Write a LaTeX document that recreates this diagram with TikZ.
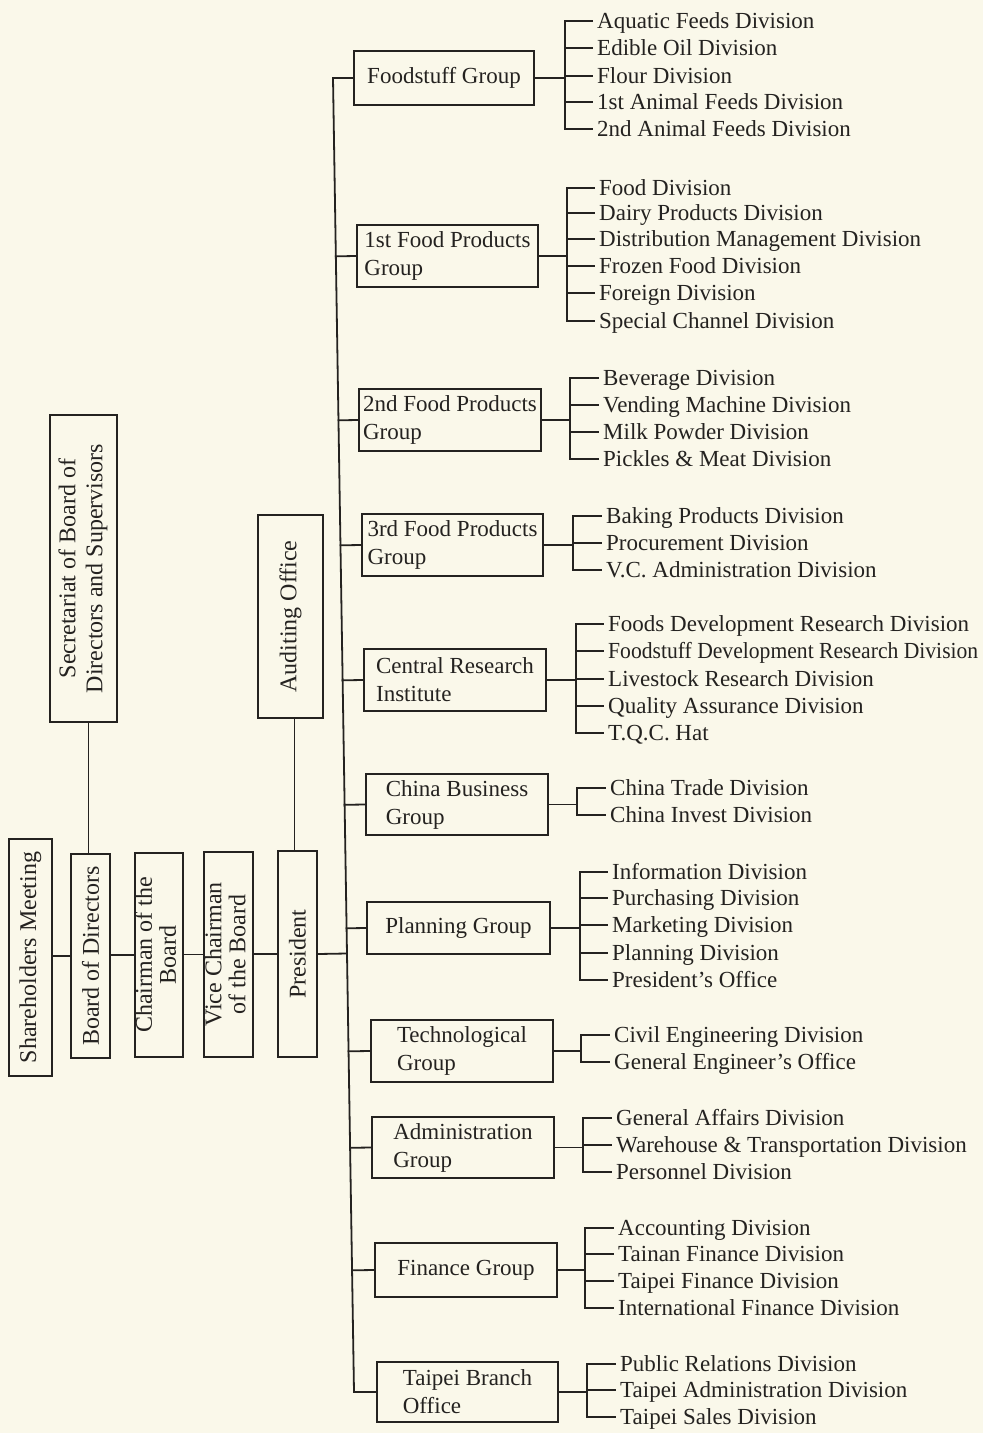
\documentclass[tikz,border=0pt]{standalone}
\usepackage{fontspec}
\setmainfont{Liberation Serif}
\usetikzlibrary{calc}
\definecolor{paper}{RGB}{250,248,234}
\definecolor{ink}{RGB}{36,34,32}
\tikzset{
  conn/.style={draw=ink, line width=1.8pt, line cap=rect},
  gbox/.style={draw=ink, line width=1.8pt, inner sep=0pt, text=ink, align=left,
    font=\fontsize{23}{28}\selectfont},
  vbox/.style={draw=ink, line width=1.8pt, inner sep=0pt, text=ink,
    font=\fontsize{24}{28}\selectfont},
  divitem/.style={anchor=west, inner sep=0pt, text=ink, text height=18pt, text depth=4pt,
    font=\fontsize{23}{28}\selectfont},
}
% #1 group name, #2 bracket x, #3 text x, #4 list y/label
\newcommand\divlist[4]{%
  \coordinate (#1b) at (#2,0);
  \foreach \yy/\lbl [count=\i, remember=\i as \prev (initially 1)] in {#4}{
    \node[divitem] (#1d\i) at (#3,\yy) {\lbl};
    \draw[conn] ([xshift=-5pt]#1d\i.west) -- (#1d\i.west -| #1b);
    \ifnum\i>1
      \draw[conn] (#1d\prev.west -| #1b) -- (#1d\i.west -| #1b);
    \fi
  }
  \draw[conn] (#1.east) -- (#1.east -| #1b);
}
\begin{document}
\begin{tikzpicture}[x=1pt,y=-1pt]
\fill[paper] (0,0) rectangle (983,1433);
\useasboundingbox (0,0) rectangle (983,1433);

% left column
\node[vbox, minimum width=43pt, minimum height=237pt] (SM) at (30.5,957.5)
  {\rotatebox{90}{Shareholders Meeting}};
\node[vbox, minimum width=39pt, minimum height=204pt] (BD) at (90.5,956)
  {\rotatebox{90}{Board of Directors}};
\node[vbox, minimum width=48pt, minimum height=204pt] (CH) at (159,955)
  {\rotatebox{90}{\fontsize{24}{24}\selectfont\begin{tabular}{@{}c@{}}Chairman of the\\Board\end{tabular}}};
\node[vbox, minimum width=49pt, minimum height=205pt] (VC) at (228.5,954.5)
  {\rotatebox{90}{\fontsize{24}{24}\selectfont\begin{tabular}{@{}c@{}}Vice Chairman\\of the Board\end{tabular}}};
\node[vbox, minimum width=39pt, minimum height=206pt] (PR) at (297.5,954)
  {\rotatebox{90}{President}};
\node[vbox, minimum width=67pt, minimum height=307pt] (SE) at (83.5,568.5)
  {\rotatebox{90}{\fontsize{24}{27}\selectfont\begin{tabular}{@{}c@{}}Secretariat of Board of\\Directors and Supervisors\end{tabular}}};
\node[vbox, minimum width=65pt, minimum height=203pt] (AU) at (290.5,616.5)
  {\rotatebox{90}{Auditing Office}};

\draw[conn] (BD.west) -- (BD.west -| SM.east);
\draw[conn] (CH.west) -- (CH.west -| BD.east);
\draw[conn] (VC.west) -- (VC.west -| CH.east);
\draw[conn] (PR.west) -- (PR.west -| VC.east);
\draw[conn] ([xshift=-2pt]BD.north) -- ([xshift=-2pt]BD.north |- SE.south);
\draw[conn] ([xshift=-3pt]PR.north) -- ([xshift=-3pt]PR.north |- AU.south);

% groups
\node[gbox, minimum width=180pt, minimum height=54pt] (G1) at (444,78) {Foodstuff Group};
\node[gbox, minimum width=181pt, minimum height=62pt] (G2) at (447.5,256) {1st Food Products\\Group};
\node[gbox, minimum width=182pt, minimum height=62pt] (G3) at (450,420) {2nd Food Products\\Group};
\node[gbox, minimum width=181pt, minimum height=62pt] (G4) at (452.5,545) {3rd Food Products\\Group};
\node[gbox, minimum width=182pt, minimum height=62pt] (G5) at (455,680) {Central Research\\Institute};
\node[gbox, minimum width=182pt, minimum height=61pt] (G6) at (457,804.5) {China Business\\Group};
\node[gbox, minimum width=183pt, minimum height=52pt] (G7) at (458.5,928) {Planning Group};
\node[gbox, minimum width=182pt, minimum height=62pt] (G8) at (462,1051) {Technological\\Group};
\node[gbox, minimum width=182pt, minimum height=61pt] (G9) at (463,1147.5) {Administration\\Group};
\node[gbox, minimum width=182pt, minimum height=54pt] (G10) at (466,1270) {Finance Group};
\node[gbox, minimum width=181pt, minimum height=60pt] (G11) at (467.5,1392) {Taipei Branch\\Office};

% trunk
\coordinate (T1) at (333,78);
\coordinate (T11) at (354,1392);
\draw[conn, line cap=butt, line join=miter] (G1.west) -- (T1) -- (T11) -- (G11.west);
\draw[conn, line width=2.6pt] (G1.west) -- (T1);
\foreach \g in {G2,G3,G4,G5,G6,G7,G8,G9,G10}{
  \draw[conn] (\g.west) -- ($(T1)!(\g.west)!(T11)$);
}
\coordinate (TP) at ($(T1)!(PR.east)!(T11)$);
\draw[conn] (PR.east) -- (TP);

% divisions
\divlist{G1}{565}{597}{21/Aquatic Feeds Division, 48/Edible Oil Division, 76/Flour Division,
  102/1st Animal Feeds Division, 129/2nd Animal Feeds Division}
\divlist{G2}{567}{599}{188/Food Division, 213/Dairy Products Division,
  239/Distribution Management Division, 266/Frozen Food Division, 293/Foreign Division,
  321/Special Channel Division}
\divlist{G3}{570}{603}{378/Beverage Division, 405/Vending Machine Division,
  432/Milk Powder Division, 459/Pickles \& Meat Division}
\divlist{G4}{573}{606}{516/Baking Products Division, 543/Procurement Division,
  570/V.C. Administration Division}
\divlist{G5}{576}{608}{624/Foods Development Research Division,
  651/\scalebox{0.94}[1]{Foodstuff Development Research Division}, 679/Livestock Research Division,
  706/Quality Assurance Division, 733/T.Q.C. Hat}
\divlist{G6}{577}{610}{788/China Trade Division, 815/China Invest Division}
\divlist{G7}{580}{612}{872/Information Division, 898/Purchasing Division,
  925/Marketing Division, 953/Planning Division, 980/President's Office}
\divlist{G8}{581}{614}{1035/Civil Engineering Division, 1062/General Engineer's Office}
\divlist{G9}{583}{616}{1118/General Affairs Division,
  1145/Warehouse \& Transportation Division, 1172/Personnel Division}
\divlist{G10}{585}{618}{1228/Accounting Division, 1254/Tainan Finance Division,
  1281/Taipei Finance Division, 1308/International Finance Division}
\divlist{G11}{587}{620}{1364/Public Relations Division,
  1390/Taipei Administration Division, 1417/Taipei Sales Division}
\end{tikzpicture}
\end{document}
